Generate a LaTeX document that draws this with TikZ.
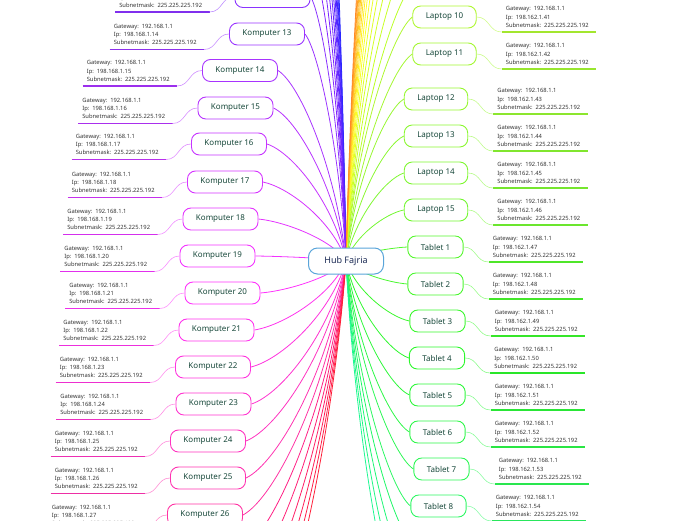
\documentclass[tikz,border=0pt]{standalone}
\usepackage{fontspec}
\setmainfont{Noto Sans}
\usetikzlibrary{calc,backgrounds}
\definecolor{HubBorder}{HTML}{5AA5DA}
\definecolor{HubText}{HTML}{1C2B55}
\definecolor{LeafText}{HTML}{17483A}
\definecolor{InfoText}{HTML}{333333}

\newcommand{\netinfo}[1]{Gateway: 192.168.1.1\\Ip: #1\\Subnetmask: 225.225.225.192}
\newcommand{\huecolor}[4]{\definecolor{tmphue}{Hsb}{#2,#3,#4}\colorlet{#1}[rgb]{tmphue}}
\newcommand{\hubcurve}[2]{%
  \begin{scope}[on background layer]
    \clip (0,0) rectangle (696,520);
    \draw[branch/.expanded=#1] let \p1=(#2), \p2=(hub.center) in
      (\p1) .. controls ({\x1+0.32*(\x2-\x1)},{\y1+0.07*(\y2-\y1)})
      and ({\x2-0.15*(\x2-\x1)},{\y2-0.49*(\y2-\y1)}) .. (\p2);
  \end{scope}}

\begin{document}
\begin{tikzpicture}[x=1pt,y=-1pt,
    every node/.style={font=\fontsize{8}{9.6}\selectfont},
    hubbox/.style={draw=HubBorder,fill=white,line width=1pt,rounded corners=9pt,minimum width=75pt,minimum height=26pt,text=HubText,font=\fontsize{9}{10}\selectfont\bfseries},
    leaf/.style={draw=#1,fill=white,line width=0.9pt,rounded corners=8pt,inner xsep=13pt,minimum height=22pt,text=LeafText},
    info/.style={inner xsep=4pt,inner ysep=4.5pt,text width=86pt,align=left,text=InfoText,font=\fontsize{5.8}{8.2}\selectfont},
    branch/.style={draw=#1,line width=0.8pt},
    uline/.style={draw=#1!93!black,line width=1.4pt},
    tie/.style={draw=#1!55!white,line width=0.6pt}
  ]
  \useasboundingbox (0,0) rectangle (696,520);
  \clip (0,0) rectangle (696,520);

  \node[hubbox] (hub) at (346,261) {Hub Fajria};

  % Komputer (kiri)
  \foreach \i/\cx/\cy in {12/272.5/-3.5,13/267/34,14/240/70.5,15/235.5/108,16/229/144,
      17/225/182,18/220.5/219,19/217.5/256,20/222.5/293,21/216.5/330,22/213/367,
      23/213.5/404,24/208/441,25/208/478,26/205/515}{
    \pgfmathsetmacro{\hue}{270+(\i-13)*4.4}
    \huecolor{kc\i}{\hue}{0.8}{1}
    \pgfmathtruncatemacro{\ip}{\i+1}
    \node[leaf/.expanded=kc\i] (k\i) at (\cx,\cy) {Komputer \i};
    \node[info,anchor=south east] (ki\i) at ($(k\i.west)+(-25,15.5)$) {\netinfo{198.168.1.\ip}};
    \draw[uline/.expanded=kc\i] (ki\i.south west) -- (ki\i.south east);
    \draw[tie/.expanded=kc\i] (k\i.west) .. controls +(-13,0) and +(13,0) .. (ki\i.south east);
    \hubcurve{kc\i}{k\i.east}
  }

  % Laptop (kanan)
  \foreach \i/\cx/\cy in {10/444.5/17,11/444.5/54,12/436/99,13/436/136,14/436/173,15/436/210}{
    \pgfmathsetmacro{\hue}{82+(\i-10)*3.6}
    \huecolor{lc\i}{\hue}{0.8}{0.97}
    \pgfmathtruncatemacro{\ip}{\i+31}
    \node[leaf/.expanded=lc\i] (l\i) at (\cx,\cy) {Laptop \i};
    \node[info,anchor=south west] (li\i) at ($(l\i.east)+(25,15)$) {\netinfo{198.162.1.\ip}};
    \draw[uline/.expanded=lc\i] (li\i.south west) -- (li\i.south east);
    \draw[tie/.expanded=lc\i] (l\i.east) .. controls +(13,0) and +(-13,0) .. (li\i.south west);
    \hubcurve{lc\i}{l\i.west}
  }

  % Tablet (kanan)
  \foreach \i/\cx/\cy in {1/435.5/247,2/435.5/284,3/437.5/321,4/437/358,5/437.5/395,
      6/437.5/432,7/441.5/469,8/438.5/506}{
    \pgfmathsetmacro{\hue}{108+(\i-1)*4}
    \huecolor{tc\i}{\hue}{0.82}{0.97}
    \pgfmathtruncatemacro{\ip}{\i+46}
    \node[leaf/.expanded=tc\i] (t\i) at (\cx,\cy) {Tablet \i};
    \node[info,anchor=south west] (ti\i) at ($(t\i.east)+(25,15)$) {\netinfo{198.162.1.\ip}};
    \draw[uline/.expanded=tc\i] (ti\i.south west) -- (ti\i.south east);
    \draw[tie/.expanded=tc\i] (t\i.east) .. controls +(13,0) and +(-13,0) .. (ti\i.south west);
    \hubcurve{tc\i}{t\i.west}
  }

  % cabang yang keluar dari bingkai
  \foreach \i in {1,...,11}{
    \pgfmathsetmacro{\hue}{240+(\i-1)*2.6}
    \huecolor{kc\i}{\hue}{0.85}{1}
    \coordinate (k\i) at (312,{-3.5-37*(12-\i)});
    \hubcurve{kc\i}{k\i}
  }
  \foreach \i in {27,...,32}{
    \pgfmathsetmacro{\hue}{329+(\i-26)*4}
    \huecolor{kc\i}{\hue}{0.88}{1}
    \coordinate (k\i) at ({243-2*(\i-26)},{515+37*(\i-26)});
    \hubcurve{kc\i}{k\i}
  }
  \foreach \j in {1,...,16}{
    \pgfmathsetmacro{\hue}{79-(\j-1)*3.4}
    \huecolor{rc\j}{\hue}{0.85}{1}
    \coordinate (ru\j) at (416,{17-37*\j});
    \hubcurve{rc\j}{ru\j}
  }
  \foreach \i in {9,...,12}{
    \pgfmathsetmacro{\hue}{136+(\i-8)*4}
    \huecolor{tc\i}{\hue}{0.88}{0.97}
    \coordinate (t\i) at (412,{506+37*(\i-8)});
    \hubcurve{tc\i}{t\i}
  }
\end{tikzpicture}
\end{document}
